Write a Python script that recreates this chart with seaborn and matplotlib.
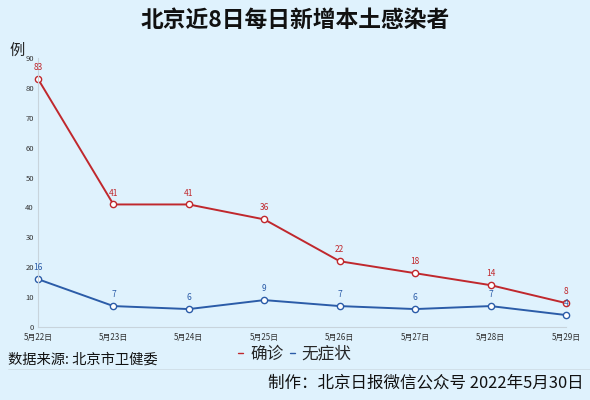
import pandas as pd
import matplotlib.pyplot as plt
import seaborn as sns
from matplotlib.lines import Line2D

dates = ["5月22日", "5月23日", "5月24日", "5月25日", "5月26日", "5月27日", "5月28日", "5月29日"]
confirmed = [83, 41, 41, 36, 22, 18, 14, 8]
asymptomatic = [16, 7, 6, 9, 7, 6, 7, 4]
series_names = ["确诊", "无症状"]
y_ticks = [0, 10, 20, 30, 40, 50, 60, 70, 80, 90]

bg = "#dff2fd"
colors = {"确诊": "#c0282d", "无症状": "#2b5ca8"}

sns.set_theme(style="white")
plt.rcParams["font.family"] = ["Noto Sans CJK SC", "DejaVu Sans"]

df = pd.DataFrame({
    "x": list(range(len(dates))) * 2,
    "value": confirmed + asymptomatic,
    "series": [series_names[0]] * len(dates) + [series_names[1]] * len(dates),
})

fig = plt.figure(figsize=(5.9, 4.0), dpi=100, facecolor=bg)
ax = fig.add_axes([38 / 590, 1 - 327 / 400, (566 - 38) / 590, (327 - 58) / 400])
ax.set_facecolor(bg)

sns.lineplot(data=df, x="x", y="value", hue="series", palette=colors, marker="o",
             markersize=4.5, markerfacecolor="white", markeredgewidth=1.0,
             linewidth=1.4, legend=False, ax=ax, clip_on=False)
for line in ax.lines:
    line.set_markeredgecolor(line.get_color())

# value labels
for name, vals in [("确诊", confirmed), ("无症状", asymptomatic)]:
    for i, v in enumerate(vals):
        ax.annotate(str(v), (i, v), xytext=(0, 5), textcoords="offset points",
                    ha="center", va="bottom", fontsize=6, fontweight="medium",
                    color=colors[name])

ax.set_xlim(0, len(dates) - 1)
ax.set_ylim(0, 90)
ax.set_xticks(range(len(dates)))
ax.set_xticklabels(dates, fontsize=5.8, color="#333333")
ax.set_yticks(y_ticks)
ax.set_yticklabels([str(t) for t in y_ticks], fontsize=5.5, color="#333333")
ax.tick_params(axis="x", length=2.5, width=0.6, color="#c8d4dc", pad=2)
ax.tick_params(axis="y", length=0, pad=3)
ax.set_xlabel("")
ax.set_ylabel("")
for side in ["top", "right"]:
    ax.spines[side].set_visible(False)
for side in ["left", "bottom"]:
    ax.spines[side].set_color("#c8d4dc")
    ax.spines[side].set_linewidth(0.8)

fig.text(0.5, 1 - 20 / 400, "北京近8日每日新增本土感染者", ha="center", va="center",
         fontsize=16.4, fontweight="black", color="#111111")
fig.text(9 / 590, 1 - 50 / 400, "例", ha="left", va="center", fontsize=11, color="#222222")

handles = [Line2D([0], [0], color=colors[n], lw=1.0) for n in series_names]
fig.legend(handles, series_names, loc="center", bbox_to_anchor=(295 / 590, 1 - 354 / 400),
           ncol=2, frameon=False, fontsize=12, handlelength=0.3, handletextpad=0.4,
           columnspacing=0.4)

fig.text(8 / 590, 1 - 360 / 400, "数据来源: 北京市卫健委", ha="left", va="center",
         fontsize=10.3, color="#111111")
fig.add_artist(Line2D([8 / 590, 1], [1 - 369 / 400] * 2, color="#cfdde6", lw=0.6))
fig.text(584 / 590, 1 - 383 / 400, "制作：北京日报微信公众号 2022年5月30日", ha="right",
         va="center", fontsize=11.9, color="#111111")

fig.savefig("out.png", dpi=100, facecolor=bg)
